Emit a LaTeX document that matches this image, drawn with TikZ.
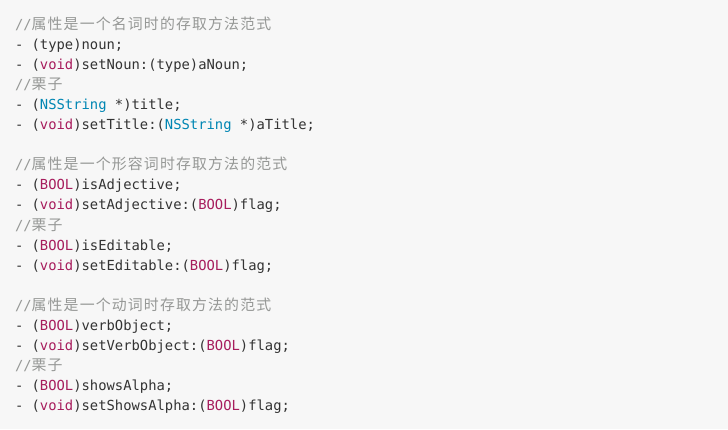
\documentclass[tikz,border=0pt]{standalone}
\usepackage{fontspec}
\usepackage{xcolor}
\newfontfamily\codefont{DejaVu Sans Mono}
\newfontfamily\cjkfont[LetterSpace=7.7]{Noto Sans CJK SC}
\definecolor{bgc}{HTML}{F7F7F7}
\definecolor{txt}{HTML}{333333}
\definecolor{cmt}{HTML}{969896}
\definecolor{kwc}{HTML}{A71D5D}
\definecolor{blc}{HTML}{0086B3}
\newcommand\mycmt[1]{\textcolor{cmt}{//{\cjkfont\fontsize{14.9pt}{20pt}\selectfont #1}}}
\newcommand\mykw[1]{\textcolor{kwc}{#1}}
\newcommand\mybl[1]{\textcolor{blc}{#1}}
\tikzset{codeline/.style={anchor=base west,inner sep=0pt,outer sep=0pt,text=txt,
  font=\codefont\fontsize{13.84pt}{20pt}\selectfont}}
\begin{document}
\begin{tikzpicture}[x=1pt,y=-1pt]
\fill[bgc] (0,0) rectangle (728,429);
\useasboundingbox (0,0) rectangle (728,429);
\def\lx{15}
\node[codeline] (l1) at (\lx,29.5) {\mycmt{属性是一个名词时的存取方法范式}};
\node[codeline] (l2) at (\lx,49.55) {- (type)noun;};
\node[codeline] (l3) at (\lx,69.6) {- (\mykw{void})setNoun:(type)aNoun;};
\node[codeline] (l4) at (\lx,89.65) {\mycmt{栗子}};
\node[codeline] (l5) at (\lx,109.7) {- (\mybl{NSString} *)title;};
\node[codeline] (l6) at (\lx,129.75) {- (\mykw{void})setTitle:(\mybl{NSString} *)aTitle;};
\node[codeline] (l8) at (\lx,169.85) {\mycmt{属性是一个形容词时存取方法的范式}};
\node[codeline] (l9) at (\lx,189.9) {- (\mykw{BOOL})isAdjective;};
\node[codeline] (l10) at (\lx,209.95) {- (\mykw{void})setAdjective:(\mykw{BOOL})flag;};
\node[codeline] (l11) at (\lx,230.0) {\mycmt{栗子}};
\node[codeline] (l12) at (\lx,250.05) {- (\mykw{BOOL})isEditable;};
\node[codeline] (l13) at (\lx,270.1) {- (\mykw{void})setEditable:(\mykw{BOOL})flag;};
\node[codeline] (l15) at (\lx,310.2) {\mycmt{属性是一个动词时存取方法的范式}};
\node[codeline] (l16) at (\lx,330.25) {- (\mykw{BOOL})verbObject;};
\node[codeline] (l17) at (\lx,350.3) {- (\mykw{void})setVerbObject:(\mykw{BOOL})flag;};
\node[codeline] (l18) at (\lx,370.35) {\mycmt{栗子}};
\node[codeline] (l19) at (\lx,390.4) {- (\mykw{BOOL})showsAlpha;};
\node[codeline] (l20) at (\lx,410.45) {- (\mykw{void})setShowsAlpha:(\mykw{BOOL})flag;};
\end{tikzpicture}
\end{document}
